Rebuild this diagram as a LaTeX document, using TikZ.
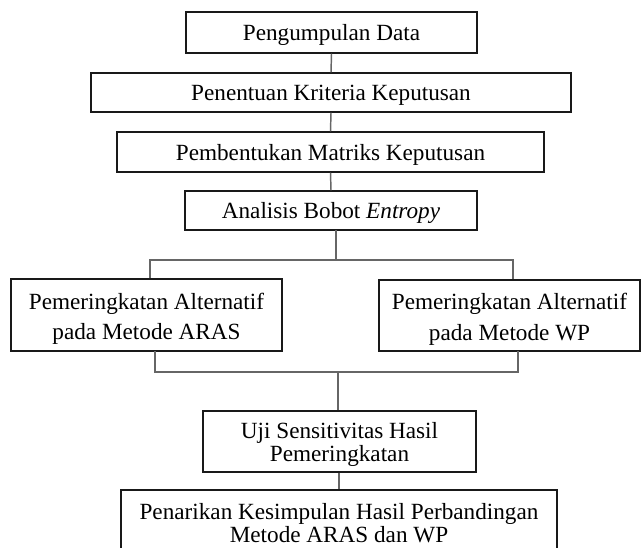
\documentclass[tikz,border=0pt]{standalone}
\usepackage{fontspec}
\setmainfont{Liberation Serif}
\newcommand{\boxtxt}[2][1.5pt]{\raisebox{-#1}[\height][\depth]{\begin{tabular}{@{}c@{}}#2\end{tabular}}}
\begin{document}
\begin{tikzpicture}[x=0.75pt,y=-0.75pt,
  box/.style={draw=black!90,line width=1pt,rectangle,inner sep=0pt,
    font=\fontsize{17.4}{23.2}\selectfont},
  link/.style={draw=black!60,line width=1.1pt}]
\useasboundingbox (0,0) rectangle (641,547);
\node[box,minimum width=291*0.75pt,minimum height=41*0.75pt] (n1) at (331.5,32.5) {\boxtxt{Pengumpulan Data}};
\node[box,minimum width=480*0.75pt,minimum height=39*0.75pt] (n2) at (331,92.5) {\boxtxt{Penentuan Kriteria Keputusan}};
\node[box,minimum width=427*0.75pt,minimum height=40*0.75pt] (n3) at (330.5,152) {\boxtxt{Pembentukan Matriks Keputusan}};
\node[box,minimum width=292*0.75pt,minimum height=39*0.75pt] (n4) at (331,210.5) {\boxtxt{Analisis Bobot \textit{Entropy}}};
\node[box,minimum width=271*0.75pt,minimum height=72*0.75pt] (n5) at (146.5,315) {\boxtxt[2.5pt]{Pemeringkatan Alternatif\\pada Metode ARAS}};
\node[box,minimum width=261*0.75pt,minimum height=71*0.75pt] (n6) at (509.5,315.5) {\boxtxt[2.5pt]{Pemeringkatan Alternatif\\pada Metode WP}};
\node[box,minimum width=273*0.75pt,minimum height=61*0.75pt,
  font=\fontsize{17.4}{17.6}\selectfont] (n7) at (339.5,441.5) {\boxtxt[3pt]{Uji Sensitivitas Hasil\\Pemeringkatan}};
\node[box,minimum width=436*0.75pt,minimum height=69*0.75pt,
  font=\fontsize{17.4}{17.3}\selectfont] (n8) at (339,524.5) {\boxtxt[1.5pt]{Penarikan Kesimpulan Hasil Perbandingan\\Metode ARAS dan WP}};
% named junction points
\coordinate (s4) at (336,230);
\coordinate (t1) at (336,260);
\coordinate (tl) at (150,260);
\coordinate (tr) at (513,260);
\coordinate (b5) at (155,351);
\coordinate (b6) at (518,351);
\coordinate (bl) at (155,372);
\coordinate (br) at (518,372);
\coordinate (bm) at (338,372);
\draw[link] (n1.south) -- (n2.north);
\draw[link] (n2.south) -- (n3.north);
\draw[link] (n3.south) -- (n4.north);
\draw[link] (s4) -- (t1);
\draw[link] (n5.north -| tl) -- (tl) -- (tr) -- (n6.north -| tr);
\draw[link] (b5) -- (bl) -- (br) -- (b6);
\draw[link] (bm) -- (n7.north -| bm);
\draw[link] (n7.south -| 339,0) -- (n8.north -| 339,0);
\end{tikzpicture}
\end{document}
